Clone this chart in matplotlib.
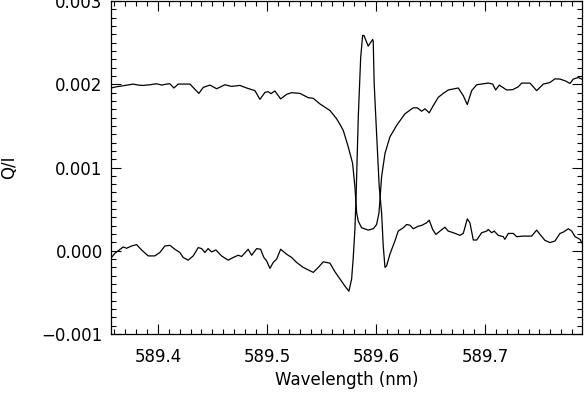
import matplotlib
matplotlib.use("Agg")
import matplotlib.pyplot as plt
from matplotlib.ticker import MultipleLocator, FuncFormatter

# Curve 1: scaled intensity profile (upper curve with deep core)
wl_int = [589.3569, 589.3621, 589.3682, 589.3773, 589.3819, 589.3865, 589.3927, 589.3988,
          589.4034, 589.4080, 589.4110, 589.4147, 589.4186, 589.4294, 589.4376, 589.4416,
          589.4477, 589.4539, 589.4615, 589.4676, 589.4752, 589.4814, 589.4890, 589.4936,
          589.4982, 589.5012, 589.5037, 589.5073, 589.5126, 589.5181, 589.5227, 589.5303,
          589.5379, 589.5425, 589.5486, 589.5578, 589.5639, 589.5670, 589.5700, 589.5746,
          589.5786, 589.5807, 589.5823, 589.5838, 589.5869, 589.5929, 589.5975, 589.6006,
          589.6028, 589.6039, 589.6052, 589.6083, 589.6128, 589.6190, 589.6266, 589.6342,
          589.6379, 589.6419, 589.6450, 589.6489, 589.6526, 589.6572, 589.6617, 589.6663,
          589.6755, 589.6801, 589.6838, 589.6878, 589.6924, 589.7030, 589.7071, 589.7098,
          589.7131, 589.7199, 589.7254, 589.7306, 589.7337, 589.7413, 589.7474, 589.7535,
          589.7596, 589.7642, 589.7688, 589.7734, 589.7780, 589.7810, 589.7856, 589.7887]
int_vals = [0.001955, 0.001970, 0.001982, 0.002002, 0.001990, 0.001986, 0.001994, 0.002006,
            0.001990, 0.002002, 0.002006, 0.001955, 0.002002, 0.002002, 0.001890, 0.001962,
            0.001990, 0.001946, 0.001994, 0.001974, 0.001986, 0.001955, 0.001923, 0.001819,
            0.001902, 0.001911, 0.001887, 0.001919, 0.001824, 0.001879, 0.001899, 0.001890,
            0.001839, 0.001831, 0.001764, 0.001685, 0.001586, 0.001518, 0.001446, 0.001248,
            0.001050, 0.000771, 0.000458, 0.000355, 0.000276, 0.000248, 0.000264, 0.000315,
            0.000455, 0.000649, 0.000890, 0.001169, 0.001367, 0.001506, 0.001645, 0.001717,
            0.001717, 0.001676, 0.001705, 0.001657, 0.001744, 0.001843, 0.001890, 0.001931,
            0.001955, 0.001863, 0.001756, 0.001923, 0.001994, 0.002014, 0.002002, 0.001931,
            0.001990, 0.001931, 0.001935, 0.001970, 0.002014, 0.002014, 0.001923, 0.002002,
            0.002021, 0.002065, 0.002062, 0.002042, 0.002010, 0.002062, 0.002081, 0.002062]

# Curve 2: Q/I polarization profile
wl_q = [589.3569, 589.3606, 589.3682, 589.3713, 589.3759, 589.3805, 589.3850, 589.3911,
        589.3972, 589.4018, 589.4064, 589.4110, 589.4156, 589.4202, 589.4232, 589.4278,
        589.4324, 589.4370, 589.4401, 589.4431, 589.4461, 589.4493, 589.4532, 589.4584,
        589.4645, 589.4691, 589.4737, 589.4768, 589.4828, 589.4860, 589.4906, 589.4942,
        589.4972, 589.4997, 589.5028, 589.5058, 589.5089, 589.5126, 589.5181, 589.5227,
        589.5272, 589.5333, 589.5425, 589.5471, 589.5517, 589.5578, 589.5624, 589.5670,
        589.5716, 589.5752, 589.5777, 589.5791, 589.5807, 589.5817, 589.5838, 589.5860,
        589.5878, 589.5890, 589.5929, 589.5970, 589.5975, 589.5984, 589.6006, 589.6030,
        589.6052, 589.6067, 589.6083, 589.6098, 589.6128, 589.6174, 589.6204, 589.6250,
        589.6281, 589.6312, 589.6342, 589.6388, 589.6419, 589.6465, 589.6489, 589.6520,
        589.6550, 589.6587, 589.6633, 589.6663, 589.6709, 589.6771, 589.6801, 589.6838,
        589.6862, 589.6893, 589.6924, 589.6970, 589.7016, 589.7030, 589.7061, 589.7085,
        589.7122, 589.7168, 589.7183, 589.7214, 589.7260, 589.7291, 589.7351, 589.7428,
        589.7474, 589.7505, 589.7550, 589.7596, 589.7642, 589.7688, 589.7719, 589.7765,
        589.7796, 589.7826, 589.7872, 589.7893]
q_vals = [-0.000089, -0.000030, 0.000045, 0.000030, 0.000057, 0.000074, 0.000010, -0.000062,
          -0.000062, -0.000021, 0.000057, 0.000065, 0.000018, -0.000021, -0.000081, -0.000113,
          -0.000062, 0.000038, 0.000026, -0.000021, 0.000026, -0.000014, 0.000010, -0.000062,
          -0.000113, -0.000081, -0.000054, -0.000069, 0.000018, -0.000054, 0.000026, 0.000018,
          -0.000081, -0.000121, -0.000212, -0.000140, -0.000101, 0.000018, -0.000042, -0.000081,
          -0.000140, -0.000200, -0.000260, -0.000200, -0.000133, -0.000149, -0.000252, -0.000339,
          -0.000426, -0.000486, -0.000339, -0.000101, 0.000256, 0.000613, 0.001605, 0.002319,
          0.002586, 0.002586, 0.002458, 0.002538, 0.002518, 0.002002, 0.001407, 0.000771,
          0.000455, 0.000057, -0.000200, -0.000181, -0.000042, 0.000117, 0.000236, 0.000276,
          0.000315, 0.000307, 0.000264, 0.000295, 0.000304, 0.000336, 0.000367, 0.000256,
          0.000196, 0.000236, 0.000283, 0.000236, 0.000217, 0.000185, 0.000208, 0.000383,
          0.000336, 0.000129, 0.000129, 0.000217, 0.000236, 0.000256, 0.000217, 0.000236,
          0.000185, 0.000169, 0.000137, 0.000208, 0.000208, 0.000169, 0.000176, 0.000176,
          0.000248, 0.000196, 0.000125, 0.000098, 0.000117, 0.000208, 0.000224, 0.000264,
          0.000236, 0.000169, 0.000137, 0.000086]

plt.rcParams['font.family'] = ['DejaVu Sans']

fig = plt.figure(figsize=(5.84, 3.93), dpi=100)
ax = fig.add_axes([111/584, 1 - 334/393, 471/584, 333/393])

ax.plot(wl_int, int_vals, color='black', lw=0.9)
ax.plot(wl_q, q_vals, color='black', lw=0.9)

ax.set_xlim(589.357, 589.789)
ax.set_ylim(-0.001, 0.003)

ax.xaxis.set_major_locator(MultipleLocator(0.1))
ax.xaxis.set_minor_locator(MultipleLocator(0.01))
ax.yaxis.set_major_locator(MultipleLocator(0.001))
ax.yaxis.set_minor_locator(MultipleLocator(0.0001))
ax.xaxis.set_major_formatter(FuncFormatter(lambda v, p: f"{v:.1f}"))
ax.yaxis.set_major_formatter(FuncFormatter(
    lambda v, p: f"{(0.0 if abs(v) < 1e-12 else v):.3f}".replace('-', '\u2212')))

ax.tick_params(which='both', direction='in', top=True, right=True, width=0.8, colors='black')
ax.tick_params(which='major', length=7, labelsize=12)
ax.tick_params(axis='x', which='major', pad=10)
ax.tick_params(axis='y', which='major', pad=6)
ax.tick_params(which='minor', length=3.5)
for s in ax.spines.values():
    s.set_linewidth(0.9)

ax.set_xlabel('Wavelength (nm)', fontsize=12, labelpad=4)
ax.set_ylabel('Q/I', fontsize=12, labelpad=17)

fig.savefig('out.png', dpi=100)
